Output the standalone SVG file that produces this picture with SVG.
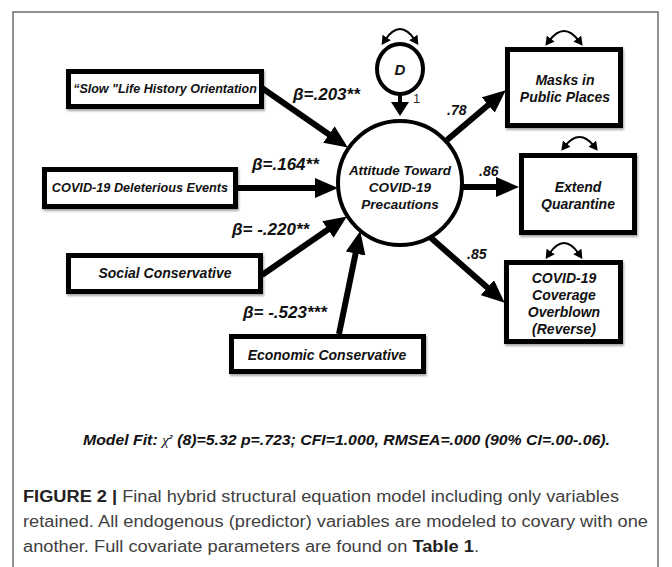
<svg xmlns="http://www.w3.org/2000/svg" width="672" height="567" viewBox="0 0 672 567">
<style>
.box{fill:#fff;stroke:#000;stroke-width:5;filter:url(#sh)}
.circ{fill:#fff;stroke:#000;stroke-width:4}
.lbl{font-family:"Liberation Sans",Arial,sans-serif;font-weight:bold;font-style:italic;fill:#111}
.beta{font-family:"Liberation Sans",Arial,sans-serif;font-weight:bold;font-style:italic;font-size:17px;fill:#111}
.coef{font-family:"Liberation Sans",Arial,sans-serif;font-weight:bold;font-style:italic;font-size:14px;fill:#111}
.path{fill:none;stroke:#000;stroke-width:6}
.cov{fill:none;stroke:#000;stroke-width:2}
.cap{font-family:"Liberation Sans",Arial,sans-serif;font-size:16px;fill:#404040}
</style>
<defs>
<filter id="sh" x="-10%" y="-10%" width="120%" height="130%">
<feDropShadow dx="1" dy="2" stdDeviation="1.2" flood-color="#000" flood-opacity="0.35"/>
</filter>
<marker id="ah" markerUnits="userSpaceOnUse" markerWidth="24" markerHeight="20" viewBox="0 0 24 20" refX="12" refY="10" orient="auto">
<path d="M0,0 L23,10 L0,20 Z" fill="#000"/>
</marker>
<marker id="ahs" markerUnits="userSpaceOnUse" markerWidth="18" markerHeight="18" viewBox="0 0 18 18" refX="8" refY="9" orient="auto">
<path d="M0,0 L14,9 L0,18 Z" fill="#000"/>
</marker>
<marker id="ac" markerUnits="userSpaceOnUse" markerWidth="10" markerHeight="10" viewBox="0 0 10 10" refX="3" refY="5" orient="auto-start-reverse">
<path d="M0,0 L9,5 L0,10 Z" fill="#000"/>
</marker>
</defs>
<rect width="672" height="567" fill="#fff"/>
<path d="M13,575 L13,12 L658,12 L658,575" fill="none" stroke="#6e6e6e" stroke-width="1.5"/>

<g id="connectors">
<path class="path" d="M262,88 L338.8,141.3" marker-end="url(#ah)"/>
<path class="path" d="M238,188 L327,188" marker-end="url(#ah)"/>
<path class="path" d="M262,275 L337.8,222.7" marker-end="url(#ah)"/>
<path class="path" d="M339,334 L358,241.8" marker-end="url(#ah)"/>
<path d="M400,94 L400,110" fill="none" stroke="#000" stroke-width="4" marker-end="url(#ahs)"/>
<path class="path" d="M447,140 L497.4,97.3" marker-end="url(#ah)"/>
<path class="path" d="M462,187 L508,187" marker-end="url(#ah)"/>
<path class="path" d="M430,237 L496.4,295.5" marker-end="url(#ah)"/>
<path class="cov" d="M385,40 Q400,18 415,40" marker-start="url(#ac)" marker-end="url(#ac)"/>
<path class="cov" d="M549,41 Q564,21 579,41" marker-start="url(#ac)" marker-end="url(#ac)"/>
<path class="cov" d="M565,146 Q579.5,128 594,146" marker-start="url(#ac)" marker-end="url(#ac)"/>
<path class="cov" d="M549,254 Q564,232 579,254" marker-start="url(#ac)" marker-end="url(#ac)"/>
<text class="beta" x="293" y="100">β=.203**</text>
<text class="beta" x="252" y="170">β=.164**</text>
<text class="beta" x="232" y="235">β= -.220**</text>
<text class="beta" x="243" y="318">β= -.523***</text>
<text class="coef" x="447" y="115">.78</text>
<text class="coef" x="479" y="176">.86</text>
<text class="coef" x="467" y="259">.85</text>
<text x="413" y="103" font-family="Liberation Sans,Arial,sans-serif" font-size="13" fill="#333">1</text>
</g>

<g id="slow">
<rect class="box" x="68.5" y="71.5" width="193" height="35"/>
<text class="lbl" x="165" y="93" font-size="12.5" text-anchor="middle">“Slow "Life History Orientation</text>
</g>
<g id="deleterious">
<rect class="box" x="44.5" y="169.5" width="191" height="37"/>
<text class="lbl" x="140" y="192" font-size="12.7" text-anchor="middle">COVID-19 Deleterious Events</text>
</g>
<g id="social">
<rect class="box" x="68.5" y="255.5" width="192" height="36"/>
<text class="lbl" x="165" y="278" font-size="14" text-anchor="middle">Social Conservative</text>
</g>
<g id="economic">
<rect class="box" x="231.5" y="336.5" width="192" height="35"/>
<text class="lbl" x="327" y="360" font-size="14" text-anchor="middle">Economic Conservative</text>
</g>
<g id="D">
<ellipse class="circ" cx="400" cy="69" rx="23" ry="25"/>
<text class="lbl" x="400" y="75" font-size="15" text-anchor="middle">D</text>
</g>
<g id="attitude">
<circle class="circ" cx="400" cy="183" r="62"/>
<text class="lbl" font-size="13.5" text-anchor="middle"><tspan x="400" y="175">Attitude Toward</tspan><tspan x="400" y="192">COVID-19</tspan><tspan x="400" y="209">Precautions</tspan></text>
</g>
<g id="masks">
<rect class="box" x="507.5" y="49.5" width="113" height="76"/>
<text class="lbl" font-size="14" text-anchor="middle"><tspan x="565" y="85">Masks in</tspan><tspan x="565" y="102">Public Places</tspan></text>
</g>
<g id="extend">
<rect class="box" x="521.5" y="155.5" width="113" height="77"/>
<text class="lbl" font-size="14" text-anchor="middle"><tspan x="578" y="192">Extend</tspan><tspan x="578" y="209">Quarantine</tspan></text>
</g>
<g id="coverage">
<rect class="box" x="506.5" y="262.5" width="114" height="79"/>
<text class="lbl" font-size="14" text-anchor="middle"><tspan x="564" y="283">COVID-19</tspan><tspan x="564" y="300">Coverage</tspan><tspan x="564" y="317">Overblown</tspan><tspan x="564" y="334">(Reverse)</tspan></text>
</g>

<text class="lbl" x="83" y="445" font-size="14" textLength="527" lengthAdjust="spacingAndGlyphs">Model Fit:  <tspan font-family="Liberation Serif,serif" font-weight="normal">χ</tspan><tspan font-size="6" dy="-6">2</tspan><tspan dy="6"> (8)=5.32 p=.723; CFI=1.000, RMSEA=.000 (90% CI=.00-.06).</tspan></text>

<text class="cap" x="23" y="502" textLength="596" lengthAdjust="spacingAndGlyphs"><tspan font-weight="bold" fill="#222">FIGURE 2 |</tspan> Final hybrid structural equation model including only variables</text>
<text class="cap" x="23" y="527" textLength="625" lengthAdjust="spacingAndGlyphs">retained. All endogenous (predictor) variables are modeled to covary with one</text>
<text class="cap" x="23" y="552" textLength="456" lengthAdjust="spacingAndGlyphs">another. Full covariate parameters are found on <tspan font-weight="bold" fill="#222">Table 1</tspan>.</text>
</svg>
